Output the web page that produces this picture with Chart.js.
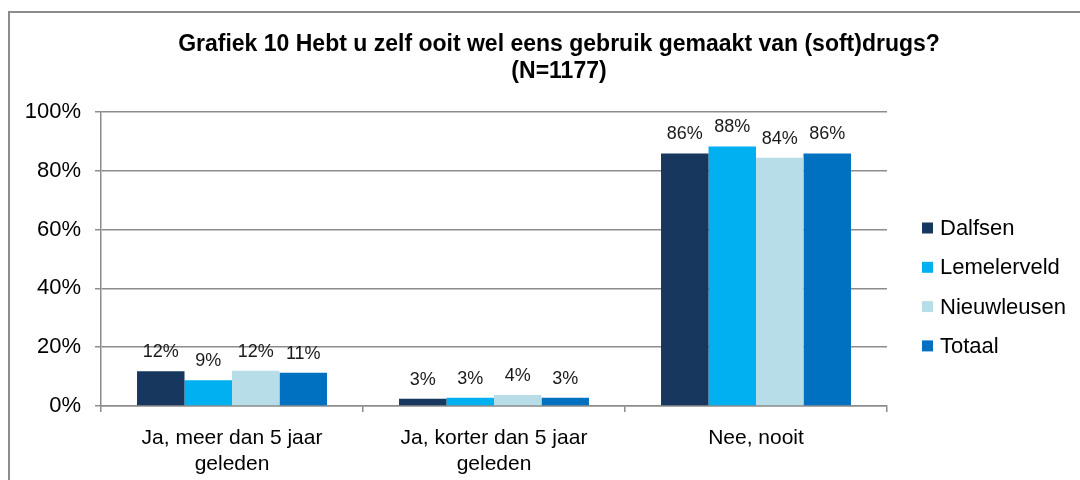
<!DOCTYPE html>
<html>
<head>
<meta charset="utf-8">
<script src="https://cdn.jsdelivr.net/npm/chart.js@4"></script>
<style>
  html, body { margin: 0; padding: 0; background: #fff; overflow: hidden; }
  #wrap { position: relative; width: 1080px; height: 480px; }
  #frame { position: absolute; left: 8px; top: 11px; width: 1200px; height: 600px; border: 2px solid #8c8c8c; }
  #chart { position: absolute; left: 0; top: 0; }
</style>
</head>
<body>
<div id="wrap">
  <div id="frame"></div>
  <canvas id="chart" width="1080" height="480"></canvas>
</div>
<script>
// Grafiek 10 - softdrugs gebruik per kern
const categories = [
  ['Ja, meer dan 5 jaar', 'geleden'],
  ['Ja, korter dan 5 jaar', 'geleden'],
  'Nee, nooit'
];
const dalfsen = [11.8, 2.5, 85.9];
const lemelerveld = [8.8, 2.8, 88.3];
const nieuwleusen = [12.0, 3.7, 84.4];
const totaal = [11.3, 2.8, 85.9];
const yTicks = [0, 20, 40, 60, 80, 100];

const titleLines = ['Grafiek 10 Hebt u zelf ooit wel eens gebruik gemaakt van (soft)drugs?', '(N=1177)'];
const FONT = '"Liberation Sans", Arial, sans-serif';

// labels boven de staven
const valueLabels = {
  id: 'valueLabels',
  afterDatasetsDraw(chart) {
    const ctx = chart.ctx;
    ctx.save();
    ctx.font = '18px ' + FONT;
    ctx.fillStyle = '#1a1a1a';
    ctx.textAlign = 'center';
    ctx.textBaseline = 'alphabetic';
    chart.data.datasets.forEach((ds, i) => {
      chart.getDatasetMeta(i).data.forEach((bar, j) => {
        ctx.fillText(Math.round(ds.data[j]) + '%', bar.x, bar.y - 14);
      });
    });
    ctx.restore();
  }
};

// titel + legenda zelf tekenen (positie zoals in het origineel)
const titleAndLegend = {
  id: 'titleAndLegend',
  afterDraw(chart) {
    const ctx = chart.ctx;
    ctx.save();
    ctx.fillStyle = '#000';
    ctx.textAlign = 'center';
    ctx.textBaseline = 'middle';
    ctx.font = 'bold 23px ' + FONT;
    titleLines.forEach((t, i) => ctx.fillText(t, 559, 45 + i * 27));

    ctx.font = '22px ' + FONT;
    ctx.textAlign = 'left';
    const x = chart.chartArea.right + 35;
    chart.data.datasets.forEach((ds, i) => {
      const y = 228 + i * 39.3;
      ctx.fillStyle = ds.backgroundColor;
      ctx.fillRect(x, y - 5.5, 11, 11);
      ctx.fillStyle = '#000';
      ctx.fillText(ds.label, x + 18, y + 1);
    });
    ctx.restore();
  }
};

new Chart(document.getElementById('chart'), {
  type: 'bar',
  data: {
    labels: categories,
    datasets: [
      { label: 'Dalfsen', data: dalfsen, backgroundColor: '#17375E' },
      { label: 'Lemelerveld', data: lemelerveld, backgroundColor: '#00B0F0' },
      { label: 'Nieuwleusen', data: nieuwleusen, backgroundColor: '#B7DDE8' },
      { label: 'Totaal', data: totaal, backgroundColor: '#0070C0' }
    ]
  },
  options: {
    responsive: false,
    animation: false,
    layout: { padding: { top: 112, right: 193, left: 0, bottom: 0 } },
    datasets: { bar: { barPercentage: 1, categoryPercentage: 0.725 } },
    plugins: { legend: { display: false }, title: { display: false }, tooltip: { enabled: false } },
    scales: {
      x: {
        afterFit: s => { s.height = 74; },
        grid: { offset: true, drawOnChartArea: false, drawTicks: true, tickLength: 6, color: '#8c8c8c', lineWidth: 1.5 },
        border: { color: '#8c8c8c', width: 1.5 },
        ticks: { color: '#000', font: { family: FONT, size: 21, lineHeight: 1.2 }, padding: 14, maxRotation: 0, autoSkip: false }
      },
      y: {
        min: 0, max: 100,
        afterFit: s => { s.width = 101; },
        afterBuildTicks: s => { s.ticks = yTicks.map(v => ({ value: v })); },
        grid: { color: '#8c8c8c', lineWidth: 1.5, tickLength: 6 },
        border: { color: '#8c8c8c', width: 1.5 },
        ticks: { color: '#000', font: { family: FONT, size: 22 }, padding: 14, callback: v => v + '%' }
      }
    }
  },
  plugins: [valueLabels, titleAndLegend]
});
</script>
</body>
</html>
